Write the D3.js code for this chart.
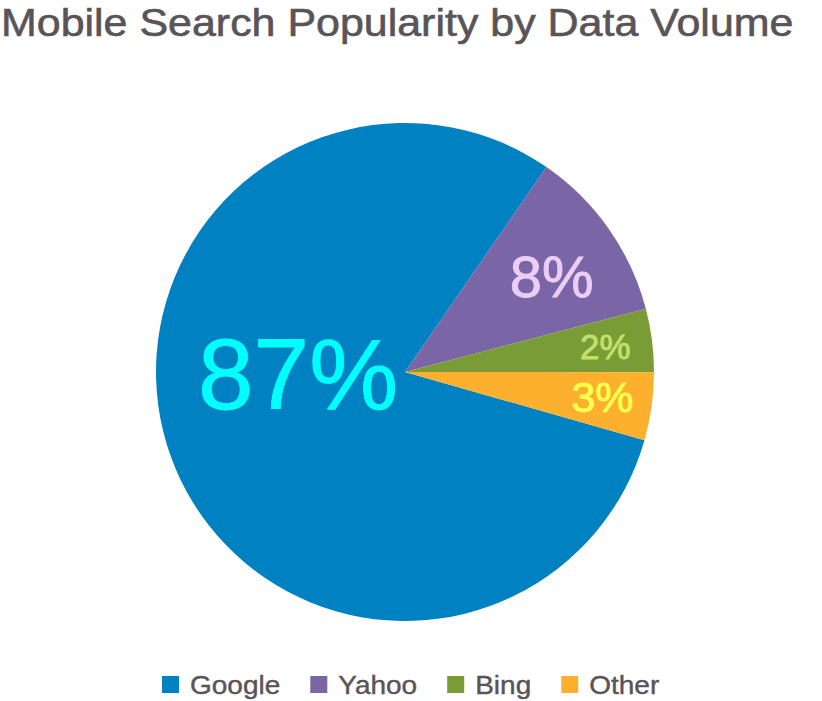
<!DOCTYPE html>
<html>
<head>
<meta charset="utf-8">
<script src="https://cdn.jsdelivr.net/npm/d3@7"></script>
<style>
  body { margin: 0; background: #fff; }
  svg text { font-family: Helvetica, Arial, "Liberation Sans", sans-serif; }
</style>
</head>
<body>
<svg id="chart"></svg>
<script>
// Data (slice sizes as drawn in the picture, labels as printed)
const engines = ["Google", "Yahoo", "Bing", "Other"];
const shares = [80.2, 11.3, 4.1, 4.4];
const labels = ["87%", "8%", "2%", "3%"];

const width = 822, height = 701;
const cx = 405, cy = 372, radius = 249;

const colors = d3.scaleOrdinal().domain(engines)
    .range(["#0081c2", "#7a66a6", "#7a9c37", "#fcb02e"]);
const labelColors = d3.scaleOrdinal().domain(engines)
    .range(["#00ffff", "#eccdf6", "#c4e06c", "#ffff4f"]);
const labelSize = { Google: 100, Yahoo: 58, Bing: 35, Other: 43 };
const labelRadius = { Google: 107, Yahoo: 175, Bing: 202, Other: 199 };
const labelShift = { Google: 19, Yahoo: 2, Bing: 0, Other: -1 }; // degrees

const svg = d3.select("#chart")
    .attr("width", width)
    .attr("height", height);

// widen Liberation glyphs a little to match the heavier reference face
function stretch(sel, k) {
    const w = sel.node().getComputedTextLength();
    sel.attr("textLength", w * k).attr("lengthAdjust", "spacingAndGlyphs");
    return w * k;
}

// Title
const title = svg.append("text")
    .attr("x", 1)
    .attr("y", 36)
    .attr("fill", "#595457")
    .attr("stroke", "#595457")
    .attr("stroke-width", 0.6)
    .style("font-size", "38px")
    .text("Mobile Search Popularity by Data Volume");
stretch(title, 1.13);

const data = engines.map((e, i) => ({ name: e, value: shares[i], label: labels[i] }));

const start = 105.9 * Math.PI / 180;
const pie = d3.pie().sort(null).value(d => d.value)
    .startAngle(start).endAngle(start + 2 * Math.PI);
const arc = d3.arc().innerRadius(0).outerRadius(radius);

const g = svg.append("g").attr("transform", `translate(${cx},${cy})`);
const arcs = pie(data);

g.selectAll("path")
    .data(arcs)
    .enter().append("path")
    .attr("d", arc)
    .attr("fill", d => colors(d.data.name));

g.selectAll("text.lbl")
    .data(arcs)
    .enter().append("text")
    .attr("class", "lbl")
    .attr("transform", d => {
        const a = (d.startAngle + d.endAngle) / 2 + labelShift[d.data.name] * Math.PI / 180;
        const r = labelRadius[d.data.name];
        return `translate(${Math.sin(a) * r},${-Math.cos(a) * r})`;
    })
    .attr("text-anchor", "middle")
    .attr("dy", "0.36em")
    .attr("fill", d => labelColors(d.data.name))
    .attr("stroke", d => labelColors(d.data.name))
    .attr("stroke-width", 0.8)
    .style("font-size", d => labelSize[d.data.name] + "px")
    .text(d => d.data.label);

// Legend
const legend = svg.append("g");
let x = 162;
engines.forEach(e => {
    const item = legend.append("g").attr("transform", `translate(${x},676)`);
    item.append("rect").attr("width", 17).attr("height", 17).attr("fill", colors(e));
    const t = item.append("text")
        .attr("x", 28).attr("y", 18)
        .attr("fill", "#595457")
        .attr("stroke", "#595457")
        .attr("stroke-width", 0.4)
        .style("font-size", "25px")
        .text(e);
    x += 28 + stretch(t, 1.12) + 30;
});
</script>
</body>
</html>
